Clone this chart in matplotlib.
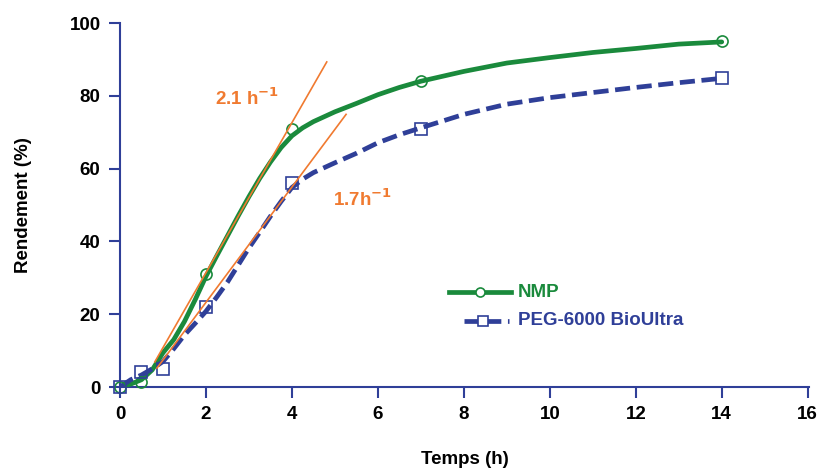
import matplotlib
matplotlib.use("Agg")
import matplotlib.pyplot as plt

plt.rcParams['font.family'] = ['Liberation Sans', 'DejaVu Sans']
plt.rcParams['font.weight'] = 'bold'

# curves
t_curve = [0, 0.25, 0.5, 0.75, 1, 1.25, 1.5, 1.75, 2, 2.25, 2.5, 2.75, 3, 3.25, 3.5,
           3.75, 4, 4.25, 4.5, 5, 5.5, 6, 6.5, 7, 8, 9, 10, 11, 12, 13, 14]
nmp_curve = [0, 0.8, 2, 4.7, 9.4, 13, 18, 24, 30.4, 36, 41.5, 47, 52.3, 57.3, 61.8,
             65.8, 69, 71.2, 72.9, 75.6, 77.9, 80.3, 82.3, 84, 86.7, 89, 90.5, 91.9, 93, 94.2, 94.8]
peg_curve = [0, 2, 3.3, 5, 7, 10.5, 14.3, 17.5, 20.8, 24.7, 28.8, 33.5, 38.2, 42.5, 46.9,
             51, 54.8, 57.1, 58.9, 61.6, 64.2, 67.1, 69.3, 71.2, 74.9, 77.7, 79.5, 80.9, 82.3, 83.6, 84.8]

# measured points
t_nmp = [0, 0.5, 2, 4, 7, 14]
y_nmp = [0, 1.5, 31, 71, 84, 95]
t_peg = [0, 0.5, 1, 2, 4, 7, 14]
y_peg = [0, 4, 5, 22, 56, 71, 85]

# initial-rate tangents
tan_nmp_x = [0.81, 4.81]
tan_nmp_y = [6.9, 89.3]
tan_peg_x = [0.86, 5.26]
tan_peg_y = [5.2, 74.9]

green = '#1a8a3c'
blue = '#2f3f98'
orange = '#f07a30'

fig = plt.figure(figsize=(8.21, 4.70), dpi=100)
ax = fig.add_axes([120 / 821, 1 - 387 / 470, 689 / 821, 364 / 470])

ax.plot(t_curve, nmp_curve, color=green, lw=3.4, solid_capstyle='round',
        solid_joinstyle='round', zorder=3)
ax.plot(t_nmp, y_nmp, ls='none', marker='o', ms=8, mfc='none', mec=green, mew=1.2,
        clip_on=False, zorder=4)
ax.plot(t_curve, peg_curve, color=blue, lw=3.4, ls=(0, (3.2, 1.4)),
        dash_joinstyle='round', zorder=3)
ax.plot(t_peg, y_peg, ls='none', marker='s', ms=8, mfc='none', mec=blue, mew=1.2,
        clip_on=False, zorder=4)

ax.plot(tan_nmp_x, tan_nmp_y, color=orange, lw=1.2, zorder=5)
ax.plot(tan_peg_x, tan_peg_y, color=orange, lw=1.2, zorder=5)

ax.text(2.2, 77.6, '2.1 h$^{\\mathbf{-1}}$', color=orange, fontsize=13.5, fontweight='bold')
ax.text(4.95, 49.6, '1.7h$^{\\mathbf{-1}}$', color=orange, fontsize=13.5, fontweight='bold')

# legend drawn by hand
ax.plot([7.65, 9.1], [26.0, 26.0], color=green, lw=3.4)
ax.plot([8.37], [26.0], marker='o', ms=6.5, mfc='white', mec=green, mew=1.2)
ax.text(9.25, 26.0, 'NMP', color=green, fontsize=13.5, fontweight='bold', va='center')
ax.plot([8.0, 9.05], [18.2, 18.2], color=blue, lw=3.4, ls=(0, (3.2, 1.4)))
ax.plot([8.45], [18.2], marker='s', ms=6.5, mfc='white', mec=blue, mew=1.2)
ax.text(9.25, 18.2, 'PEG-6000 BioUltra', color=blue, fontsize=13.5, fontweight='bold', va='center')

ax.set_xlim(0, 16.03)
ax.set_ylim(0, 100)
ax.set_xticks(range(0, 17, 2))
ax.set_yticks(range(0, 101, 20))
for s in ['top', 'right']:
    ax.spines[s].set_visible(False)
for s in ['left', 'bottom']:
    ax.spines[s].set_color(blue)
    ax.spines[s].set_linewidth(1.5)
ax.tick_params(color=blue, width=1.5, length=8, labelsize=13.5, pad=6)
for lab in ax.get_xticklabels() + ax.get_yticklabels():
    lab.set_fontweight('bold')

ax.set_xlabel('Temps (h)', fontsize=13.5, fontweight='bold', labelpad=20)
ax.set_ylabel('Rendement (%)', fontsize=13.5, fontweight='bold', labelpad=27)

fig.savefig('out.png', dpi=100)
